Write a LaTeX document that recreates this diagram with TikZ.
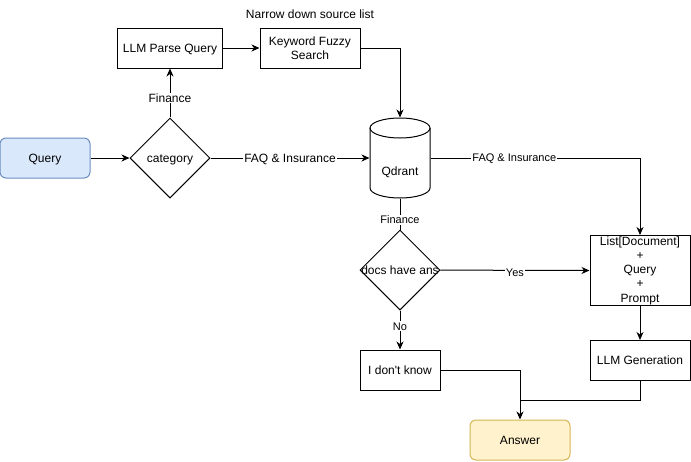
\documentclass[tikz,border=0pt]{standalone}
\usepackage{fontspec}
\setmainfont{Liberation Sans}
\usetikzlibrary{arrows.meta,shapes.geometric}
\definecolor{qfill}{HTML}{DAE8FC}
\definecolor{qline}{HTML}{6C8EBF}
\definecolor{afill}{HTML}{FFF2CC}
\definecolor{aline}{HTML}{D6B656}
\begin{document}
\begin{tikzpicture}[x=1pt,y=-1pt, line width=1pt, font=\fontsize{12}{14.3}\selectfont,
 box/.style={draw, rectangle, inner sep=0pt, align=center},
 one/.style={text height=8.6pt, text depth=0pt},
 dia/.style={draw, diamond, aspect=1, inner sep=0pt, minimum width=80pt, minimum height=80pt, one},
 arr/.style={-{Stealth[length=8pt,width=7pt,inset=2.5pt]}},
 lbl/.style={fill=white, inner sep=1pt, font=\fontsize{11}{13}\selectfont, text height=7.9pt, text depth=0pt},
 lblb/.style={fill=white, inner sep=1pt, font=\fontsize{12}{14}\selectfont, one}]
\fill[white] (0,0) rectangle (691,461);
\useasboundingbox (0,0) rectangle (691,461);
% nodes
\node[box, one, fill=qfill, draw=qline, rounded corners=6pt, minimum width=90pt, minimum height=40pt] (query) at (45,158) {Query};
\node[dia] (cat) at (170,158) {\makebox[0pt]{category}};
\node[box, one, minimum width=105pt, minimum height=40pt] (parse) at (170,48) {LLM Parse Query};
\node[box, minimum width=100pt, minimum height=40pt] (kfs) at (310,48) {Keyword Fuzzy\\Search};
\node[one] (nds) at (310,14) {Narrow down source list};
\node[minimum width=60pt, minimum height=80pt, inner sep=0pt, label={[one, yshift=-13pt]center:Qdrant}] (qd) at (400,158) {};
\draw (370,128) -- (370,188) arc[start angle=180, end angle=360, x radius=30pt, y radius=10pt] -- (430,128);
\draw (400,128) ellipse[x radius=30pt, y radius=10pt];
\node[dia] (docs) at (400,270) {\makebox[0pt]{docs have ans}};
\node[box, minimum width=100pt, minimum height=70pt] (list) at (640,270.5) {List[Document]\\+\\Query\\+\\Prompt};
\node[box, one, minimum width=100pt, minimum height=40pt] (gen) at (640,360.5) {LLM Generation};
\node[box, one, minimum width=80pt, minimum height=40pt] (idk) at (400,370) {I don\textquotesingle t know};
\node[box, one, fill=afill, draw=aline, rounded corners=6pt, minimum width=100pt, minimum height=40pt] (ans) at (520,440) {Answer};
\coordinate (m) at (520,400);
% connectors
\draw[arr] (query) -- (cat);
\draw[arr] (cat) -- node[lblb, pos=0.4] {Finance} (parse);
\draw[arr] (parse) -- (kfs);
\draw[arr] (kfs.east) -| (qd.north);
\draw[arr] (cat) -- node[lblb] {FAQ \& Insurance} (qd.west);
\draw[arr] (qd.east) -| node[lbl, pos=0.2] {FAQ \& Insurance} (list.north);
\draw (qd.south) -- node[lbl, pos=0.69] {Finance} (docs.north);
\draw[arr] (docs) -- node[lbl, yshift=-2pt] {Yes} (list.west);
\draw[arr] (docs) -- node[lbl, pos=0.4] {No} (idk);
\draw[arr] (list) -- (gen);
\draw[arr] (idk.east) -| (ans.north);
\draw (gen.south) |- (m);
\end{tikzpicture}
\end{document}
